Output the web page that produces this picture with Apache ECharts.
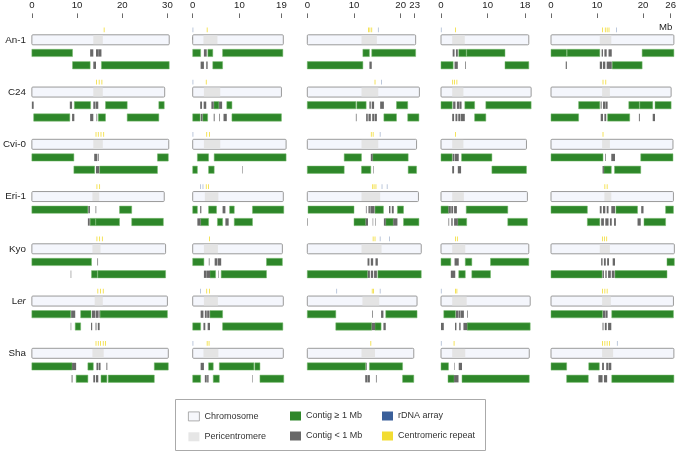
<!DOCTYPE html>
<html><head><meta charset="utf-8">
<script src="https://cdn.jsdelivr.net/npm/echarts@6/dist/echarts.min.js"></script>
<style>html,body{margin:0;padding:0;background:#fff}#c{width:679px;height:451px}</style>
</head><body><div id="c"></div>
<script>
// ---------------- data ----------------
const accessions = ['An-1', 'C24', 'Cvi-0', 'Eri-1', 'Kyo', 'Ler', 'Sha'];
const axisMax = [30, 19, 23, 18, 26];
const tickLabels = [[0, 10, 20, 30], [0, 10, 19], [0, 10, 20, 23], [0, 10, 18], [0, 10, 20, 26]];
const unitLabel = 'Mb';

// chromosome length (Mb) per chromosome, per accession
const chrLength = [
  [30.4, 29.4, 30.3, 29.3, 29.6, 30.0, 30.2],
  [19.4, 19.0, 20.0, 19.4, 19.2, 19.4, 19.4],
  [23.2, 24.0, 23.4, 23.8, 24.4, 23.5, 22.8],
  [18.8, 19.3, 18.3, 18.5, 18.8, 19.1, 18.9],
  [26.7, 26.1, 26.5, 26.6, 26.8, 26.6, 26.7]
];
// pericentromere [start, end] per chromosome, per accession
const pericentromere = [
  [[13.6, 15.7], [13.6, 15.7], [13.6, 15.7], [13.4, 14.9], [13.4, 15.2], [13.9, 15.7], [13.4, 15.9]],
  [[2.3, 5.3], [2.4, 5.9], [2.4, 5.9], [2.6, 5.5], [2.4, 5.4], [2.4, 5.4], [2.3, 5.5]],
  [[11.6, 14.9], [11.6, 15.2], [11.6, 15.2], [11.6, 15.6], [11.6, 15.9], [11.8, 15.4], [11.6, 14.5]],
  [[2.4, 5.1], [2.4, 4.8], [2.4, 4.8], [2.4, 4.9], [2.4, 5.2], [2.4, 5.5], [2.4, 5.2]],
  [[10.6, 13.1], [11.1, 12.8], [11.1, 12.8], [11.6, 13.1], [10.6, 12.8], [11.1, 13.0], [11.1, 13.5]]
];
// contigs: [accession index, track, start, end]
const contigsChr1 = [
  [0,0,0,9.0],[0,0,12.9,13.6],[0,0,14.2,14.8],[0,0,14.8,15.4],
  [0,1,9.0,12.9],[0,1,13.6,14.2],[0,1,15.4,30.4],
  [1,0,0,0.4],[1,0,8.4,8.9],[1,0,9.4,13.0],[1,0,13.6,14.1],[1,0,14.2,14.7],[1,0,16.3,21.1],[1,0,28.1,29.3],
  [1,1,0.4,8.4],[1,1,8.9,9.4],[1,1,12.9,13.6],[1,1,14.3,14.45],[1,1,14.7,16.3],[1,1,21.1,28.1],
  [2,0,0,9.3],[2,0,13.8,14.5],[2,0,14.7,14.85],[2,0,27.8,30.2],
  [2,1,9.3,13.9],[2,1,14.2,14.9],[2,1,15.0,27.8],
  [3,0,0,12.4],[3,0,12.5,12.85],[3,0,14.1,14.25],[3,0,19.4,22.1],
  [3,1,12.4,12.8],[3,1,12.9,14.1],[3,1,14.15,19.4],[3,1,22.1,29.1],
  [4,0,0,13.2],[4,0,14.5,14.65],
  [4,1,8.6,8.7],[4,1,13.2,14.5],[4,1,14.6,29.6],
  [5,0,0,8.6],[5,0,8.7,9.6],[5,0,10.8,13.1],[5,0,13.3,14.0],[5,0,14.1,14.7],[5,0,14.75,15.0],[5,0,15.1,30.0],
  [5,1,8.6,8.7],[5,1,9.6,10.8],[5,1,13.1,13.35],[5,1,14.1,14.3],[5,1,14.6,15.0],
  [6,0,0,8.9],[6,0,8.9,9.8],[6,0,12.4,13.6],[6,0,14.3,14.7],[6,0,14.8,15.2],[6,0,16.5,16.7],[6,0,27.1,30.2],
  [6,1,8.8,9.0],[6,1,9.8,12.4],[6,1,13.6,14.0],[6,1,14.2,14.7],[6,1,15.3,16.6],[6,1,16.9,27.1]
];
const contigsChr2 = [
  [0,0,0,1.7],[0,0,2.4,3.0],[0,0,3.25,4.3],[0,0,6.4,19.3],
  [0,1,1.7,2.4],[0,1,2.9,3.2],[0,1,4.3,6.4],
  [1,0,1.6,2.0],[1,0,2.35,2.9],[1,0,4.0,4.5],[1,0,4.55,5.6],[1,0,5.65,6.3],[1,0,7.3,8.4],
  [1,1,0,1.6],[1,1,1.75,2.1],[1,1,2.15,3.2],[1,1,4.5,4.7],[1,1,5.7,5.85],[1,1,6.6,7.3],[1,1,8.4,19.0],
  [2,0,1.0,3.4],[2,0,4.6,20.0],
  [2,1,0,1.0],[2,1,3.4,4.6],[2,1,10.6,10.7],
  [3,0,0,1.0],[3,0,1.6,1.85],[3,0,3.4,5.1],[3,0,6.4,7.0],[3,0,7.9,8.9],[3,0,12.8,19.5],
  [3,1,1.0,1.7],[3,1,1.7,3.4],[3,1,5.3,6.4],[3,1,7.0,7.7],[3,1,8.9,12.8],
  [4,0,0,2.4],[4,0,3.45,3.6],[4,0,4.7,5.3],[4,0,5.4,6.1],[4,0,15.8,19.2],
  [4,1,2.4,3.0],[4,1,3.05,3.7],[4,1,3.7,4.9],[4,1,5.5,5.6],[4,1,6.1,15.8],
  [5,0,1.7,2.3],[5,0,2.6,3.0],[5,0,3.1,3.6],[5,0,3.7,6.4],
  [5,1,0,1.7],[5,1,2.3,2.7],[5,1,3.2,3.7],[5,1,6.4,19.3],
  [6,0,1.7,2.4],[6,0,3.4,4.4],[6,0,5.7,13.1],[6,0,13.3,14.4],
  [6,1,0,1.7],[6,1,2.6,3.0],[6,1,3.1,3.4],[6,1,4.4,5.7],[6,1,12.8,12.9],[6,1,14.4,19.5]
];
const contigsChr3 = [
  [0,0,11.9,13.3],[0,0,13.8,23.2],
  [0,1,0,11.9],[0,1,13.3,13.8],
  [1,0,0,10.4],[1,0,10.6,12.6],[1,0,13.3,13.6],[1,0,13.8,14.3],[1,0,15.6,16.4],[1,0,19.1,21.5],
  [1,1,10.4,10.55],[1,1,12.6,12.95],[1,1,13.1,13.6],[1,1,13.9,14.3],[1,1,14.4,14.9],[1,1,16.4,19.1],[1,1,21.5,23.9],
  [2,0,7.9,11.6],[2,0,13.6,14.0],[2,0,14.0,21.6],
  [2,1,0,7.9],[2,1,11.6,13.6],[2,1,14.1,14.2],[2,1,21.6,23.4],
  [3,0,0.15,10.0],[3,0,12.55,12.7],[3,0,13.1,13.4],[3,0,13.5,14.4],[3,0,14.5,16.3],[3,0,17.5,17.8],[3,0,18.1,18.5],[3,0,19.3,20.6],
  [3,1,0,0.12],[3,1,10.0,12.5],[3,1,12.5,13.0],[3,1,14.0,14.1],[3,1,14.5,14.6],[3,1,16.4,16.8],[3,1,16.8,18.4],[3,1,18.4,19.3],[3,1,20.6,23.9],
  [4,0,12.9,13.3],[4,0,13.6,14.1],[4,0,14.6,15.1],
  [4,1,0,12.9],[4,1,12.95,13.4],[4,1,13.6,14.1],[4,1,14.3,14.9],[4,1,15.1,24.4],
  [5,0,0,6.1],[5,0,13.9,14.05],[5,0,15.8,16.3],[5,0,16.8,23.5],
  [5,1,6.1,13.8],[5,1,13.8,14.5],[5,1,14.5,15.8],[5,1,16.3,16.8],
  [6,0,0,12.5],[6,0,12.6,12.75],[6,0,13.3,20.4],
  [6,1,12.4,12.9],[6,1,12.95,13.4],[6,1,14.7,14.85],[6,1,20.4,22.8]
];
const contigsChr4 = [
  [0,0,2.5,2.9],[0,0,3.2,3.6],[0,0,3.8,5.4],[0,0,5.5,13.7],
  [0,1,0,2.6],[0,1,2.9,3.6],[0,1,5.2,5.35],[0,1,13.7,18.8],
  [1,0,0,2.4],[1,0,2.6,3.1],[1,0,3.4,3.9],[1,0,3.95,4.4],[1,0,5.1,7.2],[1,0,9.6,19.3],
  [1,1,2.4,2.8],[1,1,3.1,3.5],[1,1,3.7,4.1],[1,1,4.2,5.1],[1,1,7.2,9.6],
  [2,0,0,2.4],[2,0,2.5,2.8],[2,0,2.9,3.8],[2,0,4.4,10.9],
  [2,1,2.4,2.8],[2,1,3.6,4.3],[2,1,10.9,18.3],
  [3,0,0,1.6],[3,0,1.6,2.1],[3,0,2.2,2.6],[3,0,2.8,3.4],[3,0,5.4,14.3],
  [3,1,1.6,1.75],[3,1,2.2,2.5],[3,1,2.8,3.6],[3,1,3.6,5.5],[3,1,14.3,18.5],
  [4,0,0,2.1],[4,0,2.9,3.8],[4,0,5.2,6.6],[4,0,10.6,18.8],
  [4,1,2.1,3.05],[4,1,3.8,5.2],[4,1,6.6,10.6],
  [5,0,0.6,3.1],[5,0,3.2,3.7],[5,0,3.75,4.15],[5,0,4.2,4.9],[5,0,5.6,5.75],
  [5,1,0,0.6],[5,1,3.0,3.3],[5,1,3.9,4.2],[5,1,4.8,5.6],[5,1,5.6,19.1],
  [6,0,0,1.6],[6,0,2.8,2.9],[6,0,3.8,4.5],
  [6,1,1.5,2.8],[6,1,2.8,3.75],[6,1,4.5,18.9]
];
const contigsChr5 = [
  [0,0,0,3.4],[0,0,3.5,10.6],[0,0,11.0,11.3],[0,0,11.6,12.1],[0,0,12.5,13.2],[0,0,19.8,26.7],
  [0,1,3.2,3.45],[0,1,10.6,11.1],[0,1,11.3,11.8],[0,1,12.1,12.6],[0,1,12.6,13.2],[0,1,13.3,19.8],
  [1,0,6.0,10.6],[1,0,10.8,11.0],[1,0,11.3,11.8],[1,0,11.85,12.3],[1,0,16.9,19.2],[1,0,19.3,22.1],[1,0,22.6,26.1],
  [1,1,0,6.0],[1,1,10.8,11.3],[1,1,11.6,12.0],[1,1,12.3,17.1],[1,1,19.1,19.3],[1,1,22.1,22.6],
  [2,0,0,11.3],[2,0,11.8,11.95],[2,0,13.1,13.9],[2,0,19.5,26.5],
  [2,1,11.2,11.5],[2,1,11.5,13.1],[2,1,13.8,19.5],
  [3,0,0,7.9],[3,0,10.6,11.0],[3,0,11.3,11.8],[3,0,12.1,12.5],[3,0,13.1,13.9],[3,0,14.1,18.8],[3,0,19.6,20.1],[3,0,24.9,26.6],
  [3,1,7.9,10.6],[3,1,10.9,11.5],[3,1,11.8,12.5],[3,1,12.8,13.2],[3,1,13.7,14.1],[3,1,18.8,19.5],[3,1,20.2,24.9],
  [4,0,10.9,11.2],[4,0,11.5,11.9],[4,0,12.2,12.6],[4,0,13.4,13.9],[4,0,25.2,26.8],
  [4,1,0,11.1],[4,1,11.2,11.5],[4,1,11.8,12.1],[4,1,12.4,13.0],[4,1,13.2,13.8],[4,1,13.9,25.2],
  [5,0,0,11.2],[5,0,11.3,11.8],[5,0,11.85,12.3],[5,0,13.2,26.6],
  [5,1,11.2,11.4],[5,1,11.7,12.1],[5,1,12.4,13.1],
  [6,0,0,3.4],[6,0,8.2,10.5],[6,0,11.1,11.5],[6,0,12.0,12.5],[6,0,12.6,13.1],
  [6,1,3.4,8.1],[6,1,10.3,11.2],[6,1,11.5,12.2],[6,1,13.2,26.7]
];
// centromeric repeat positions (Mb) per chromosome, per accession
const centromericRepeat = [
  [[16.0], [14.3, 14.9, 15.5], [14.2, 14.7, 15.3, 15.9], [14.4, 15.0], [14.4, 15.0, 15.6], [14.6, 15.2, 15.8], [14.2, 14.7, 15.2, 15.8, 16.3]],
  [[3.1], [2.9], [3.0, 3.6], [2.9, 3.4], [3.6], [3.0, 3.6], [3.1, 3.5]],
  [[13.1, 13.4, 13.8], [14.5], [13.7, 14.1], [14.0, 14.3, 14.7], [14.1, 14.5], [13.9, 14.2], [13.6]],
  [[3.1], [2.5, 2.9, 3.4], [3.1], [], [3.1, 3.5], [3.1, 3.4], [2.8]],
  [[11.2, 11.8, 12.2, 12.6], [11.3, 11.9], [11.3], [11.7, 12.2], [11.2, 11.6, 12.1], [11.2, 11.7, 12.2], [11.2, 11.7, 12.2, 12.7]]
];
// rDNA array positions (Mb) per chromosome, per accession
const rdnaArray = [
  [[], [], [], [], [], [], []],
  [[0.05], [0.05], [0.05], [1.7, 2.2], [], [1.7], [0.05]],
  [[15.2], [15.9], [15.6], [16.0, 17.1], [15.6, 17.6], [6.3, 15.6], []],
  [[0.05], [], [], [], [], [0.05], [0.05]],
  [[14.2], [], [], [], [], [], [14.4]]
];
const contigs = [contigsChr1, contigsChr2, contigsChr3, contigsChr4, contigsChr5];

// ---------------- style / layout ----------------
const FONT = 'Liberation Sans, Arial, Helvetica, sans-serif';
const PX_PER_MB = 4.67;
const gridLeft = [27.3, 192.7, 307.3, 441, 551];
const GRID_TOP = 38.3, ROW_H = 52.5;
const C = {
  chromFill: '#f4f6fc', chromBorder: '#9a9a9a', peri: '#e4e4e4',
  big: '#2e872a', small: '#686868', rdna: '#3a5f9a', cen: '#f2dc33'
};

function renderChrom(params, api) {
  const a = api.coord([0, api.value(0)]);
  const b = api.coord([api.value(1), api.value(0)]);
  return { type: 'rect', shape: { x: a[0], y: a[1] - 5, width: b[0] - a[0], height: 10, r: 1 },
    style: { fill: C.chromFill, stroke: C.chromBorder, lineWidth: 1 } };
}
function renderPeri(params, api) {
  const a = api.coord([api.value(1), api.value(0)]);
  const b = api.coord([api.value(2), api.value(0)]);
  return { type: 'rect', shape: { x: a[0], y: a[1] - 4.4, width: b[0] - a[0], height: 8.8 },
    style: { fill: C.peri } };
}
function makeContigRenderer(color, stroke) {
  return function (params, api) {
    const row = api.value(0), track = api.value(1);
    const a = api.coord([api.value(2), row]);
    const b = api.coord([api.value(3), row]);
    const y = a[1] + (track === 0 ? 9.5 : 21.8);
    return { type: 'rect', shape: { x: a[0], y: y, width: Math.max(b[0] - a[0], 0.5), height: 7.3 },
      style: stroke ? { fill: color, stroke: stroke, lineWidth: 0.5 } : { fill: color } };
  };
}
function makeMarkRenderer(color, w) {
  return function (params, api) {
    const a = api.coord([api.value(1), api.value(0)]);
    return { type: 'rect', shape: { x: a[0] - w / 2, y: a[1] - 12.3, width: w, height: 4.8 },
      style: { fill: color } };
  };
}

const grids = [], xAxes = [], yAxes = [], series = [];
for (let c = 0; c < 5; c++) {
  grids.push({ left: gridLeft[c], top: GRID_TOP, width: axisMax[c] * PX_PER_MB, height: ROW_H * 6 });
  // minor ticks every 1 Mb
  xAxes.push({ gridIndex: c, type: 'value', position: 'top', offset: 21.8, min: 0, max: axisMax[c], interval: 1,
    axisLine: { show: false }, splitLine: { show: false },
    axisTick: { show: true, length: 2.6, lineStyle: { color: '#444', width: 0.8 } },
    axisLabel: { show: false } });
  // major ticks + labels
  xAxes.push({ gridIndex: c, type: 'value', position: 'top', offset: 21.8, min: 0, max: axisMax[c], interval: 10,
    axisLine: { show: false }, splitLine: { show: false },
    axisTick: { show: true, length: 4.6, customValues: tickLabels[c], lineStyle: { color: '#444', width: 0.8 } },
    axisLabel: { show: true, customValues: tickLabels[c], margin: 8, fontSize: 9.6, color: '#222', fontFamily: FONT } });
  yAxes.push({ gridIndex: c, type: 'value', min: 0, max: 6, interval: 1, inverse: true,
    axisLine: { show: false }, axisTick: { show: false }, splitLine: { show: false },
    axisLabel: c === 0 ? {
      show: true, margin: 6, fontSize: 9.8, color: '#222', fontFamily: FONT,
      formatter: v => { const n = accessions[v]; if (n === undefined) return ''; return n === 'Ler' ? 'L{it|er}' : n; },
      rich: { it: { fontStyle: 'italic', fontSize: 9.8, color: '#222', fontFamily: FONT } }
    } : { show: false } });

  const xi = c * 2, yi = c;
  const chromData = chrLength[c].map((L, i) => [i, L]);
  const periData = pericentromere[c].map((p, i) => [i, p[0], p[1]]);
  const bigData = contigs[c].filter(d => d[3] - d[2] >= 0.99);
  const smallData = contigs[c].filter(d => d[3] - d[2] < 0.99);
  const cenData = [], rdnaData = [];
  centromericRepeat[c].forEach((arr, i) => arr.forEach(p => cenData.push([i, p])));
  rdnaArray[c].forEach((arr, i) => arr.forEach(p => rdnaData.push([i, p])));
  const base = { type: 'custom', xAxisIndex: xi, yAxisIndex: yi, clip: false, silent: true };
  series.push(Object.assign({}, base, { name: 'Chromosome', z: 1, renderItem: renderChrom, data: chromData,
    encode: { x: 1, y: 0 }, itemStyle: { color: C.chromFill } }));
  series.push(Object.assign({}, base, { name: 'Pericentromere', z: 2, renderItem: renderPeri, data: periData,
    encode: { x: [1, 2], y: 0 }, itemStyle: { color: C.peri } }));
  series.push(Object.assign({}, base, { name: 'Contig ≥ 1 Mb', z: 3, renderItem: makeContigRenderer(C.big, '#77bb6c'), data: bigData,
    encode: { x: [2, 3], y: 0 }, itemStyle: { color: C.big } }));
  series.push(Object.assign({}, base, { name: 'Contig < 1 Mb', z: 3, renderItem: makeContigRenderer(C.small, null), data: smallData,
    encode: { x: [2, 3], y: 0 }, itemStyle: { color: C.small } }));
  series.push(Object.assign({}, base, { name: 'rDNA array', z: 3, renderItem: makeMarkRenderer('#9fb0cc', 0.7), data: rdnaData,
    encode: { x: 1, y: 0 }, itemStyle: { color: C.rdna } }));
  series.push(Object.assign({}, base, { name: 'Centromeric repeat', z: 3, renderItem: makeMarkRenderer(C.cen, 0.8), data: cenData,
    encode: { x: 1, y: 0 }, itemStyle: { color: C.cen } }));
}

const legendCommon = { orient: 'vertical', top: 411.5, itemWidth: 11, itemHeight: 9, itemGap: 11, padding: 0,
  selectedMode: false, icon: 'rect', z: 5, textStyle: { fontSize: 9, color: '#333', fontFamily: FONT } };
const option = {
  animation: false,
  backgroundColor: '#fff',
  grid: grids, xAxis: xAxes, yAxis: yAxes, series: series,
  legend: [
    Object.assign({}, legendCommon, { left: 188, data: [
      { name: 'Chromosome', itemStyle: { color: '#f6f7fb', borderColor: '#999', borderWidth: 0.8 } },
      { name: 'Pericentromere', itemStyle: { color: '#e6e6e6', borderWidth: 0 } }] }),
    Object.assign({}, legendCommon, { left: 290, data: [
      { name: 'Contig ≥ 1 Mb', itemStyle: { color: C.big, borderWidth: 0 } },
      { name: 'Contig < 1 Mb', itemStyle: { color: C.small, borderWidth: 0 } }] }),
    Object.assign({}, legendCommon, { left: 382, data: [
      { name: 'rDNA array', itemStyle: { color: C.rdna, borderWidth: 0 } },
      { name: 'Centromeric repeat', itemStyle: { color: C.cen, borderWidth: 0 } }] })
  ],
  graphic: [
    { type: 'rect', left: 175, top: 399, z: 0, silent: true, shape: { width: 310, height: 51 },
      style: { fill: '#fff', stroke: '#aaa', lineWidth: 1 } },
    { type: 'text', left: 659, top: 22, silent: true,
      style: { text: unitLabel, fontSize: 9.6, fill: '#222', fontFamily: FONT } }
  ]
};
const chart = echarts.init(document.getElementById('c'), null, { renderer: 'canvas' });
chart.setOption(option);
</script></body></html>
